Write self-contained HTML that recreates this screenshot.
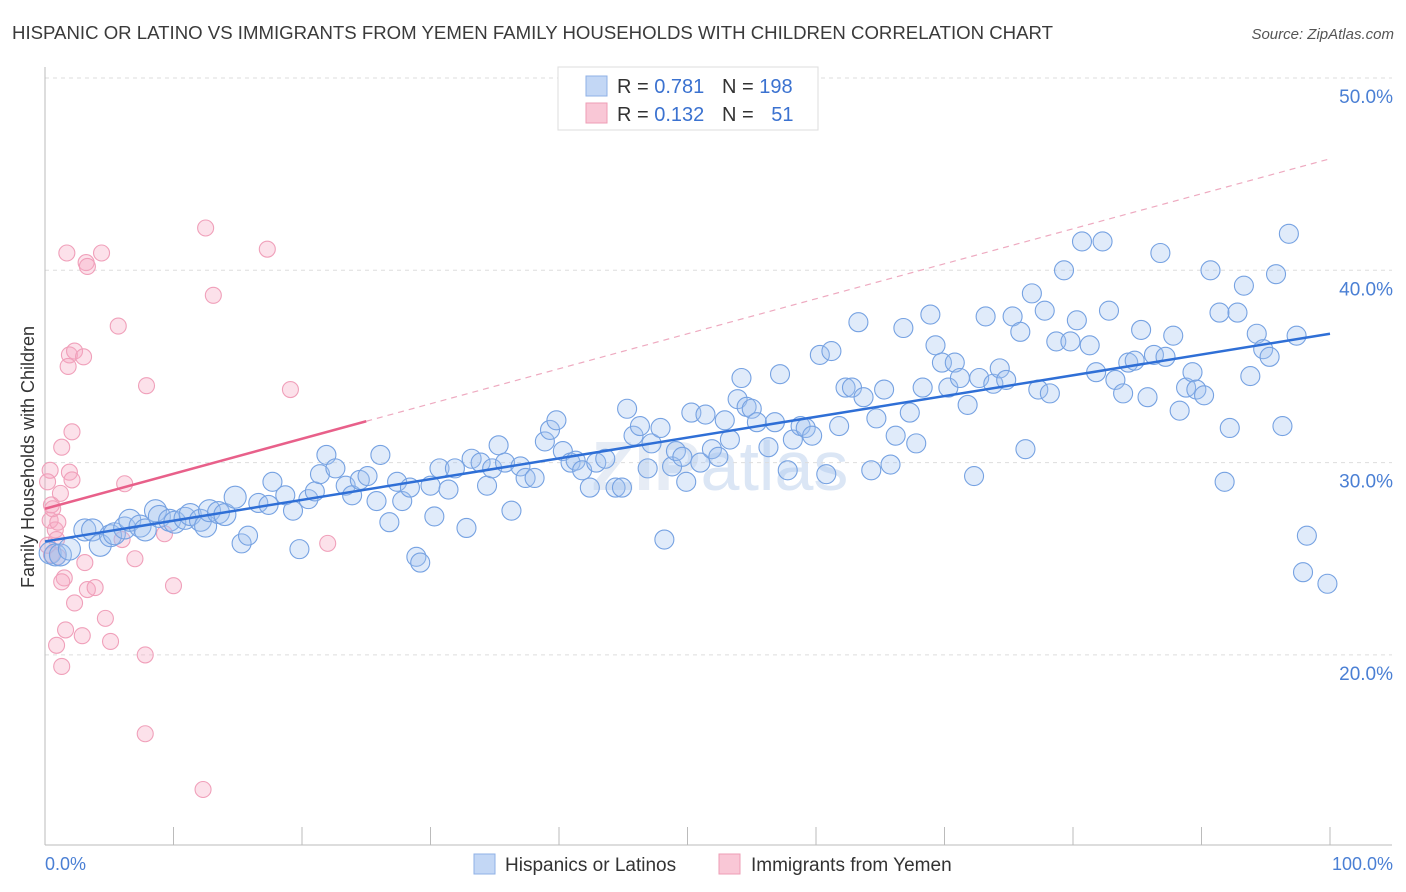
<!DOCTYPE html>
<html><head><meta charset="utf-8">
<style>
body{margin:0;background:#fff;font-family:"Liberation Sans",sans-serif;}
svg{display:block}
</style></head>
<body>
<svg id="chart" width="1406" height="892" viewBox="0 0 1406 892" xmlns="http://www.w3.org/2000/svg">
<text x="12" y="39" font-size="18" fill="#3a3a3a" textLength="1041" lengthAdjust="spacingAndGlyphs">HISPANIC OR LATINO VS IMMIGRANTS FROM YEMEN FAMILY HOUSEHOLDS WITH CHILDREN CORRELATION CHART</text>
<text x="1394" y="39" font-size="15" fill="#555" text-anchor="end" font-style="italic">Source: ZipAtlas.com</text>
<text x="720" y="490" font-size="70" fill="#e6ecf5" text-anchor="middle" font-weight="bold">ZIP<tspan fill="#dbe6f5" font-weight="normal">atlas</tspan></text>
<g id="grid"></g>
<g id="axes"></g>
<g id="pinkPts"></g>
<g id="bluePts"></g>
<g id="trends"></g>
<text transform="translate(34,457) rotate(-90)" font-size="18" fill="#333" text-anchor="middle">Family Households with Children</text>
<text x="45" y="870" font-size="18" fill="#4a7fd4">0.0%</text>
<text x="1393" y="870" font-size="18" fill="#4a7fd4" text-anchor="end">100.0%</text>
<g>
<rect x="558" y="67" width="260" height="63" fill="#fff" stroke="#ddd"/>
<rect x="586" y="76" width="21" height="20" fill="#c3d7f5" stroke="#8fb0e6"/>
<rect x="586" y="103" width="21" height="20" fill="#f9c7d6" stroke="#ee9db5"/>
<text x="617" y="93" font-size="20" fill="#333">R = <tspan fill="#3b72d0">0.781</tspan></text>
<text x="722" y="93" font-size="20" fill="#333">N = <tspan fill="#3b72d0">198</tspan></text>
<text x="617" y="121" font-size="20" fill="#333">R = <tspan fill="#3b72d0">0.132</tspan></text>
<text x="722" y="121" font-size="20" fill="#333">N = <tspan fill="#3b72d0" dx="12">51</tspan></text>
</g>
<g>
<rect x="474" y="854" width="21" height="20" fill="#c3d7f5" stroke="#8fb0e6"/>
<text x="505" y="871" font-size="19" fill="#333">Hispanics or Latinos</text>
<rect x="719" y="854" width="21" height="20" fill="#f9c7d6" stroke="#ee9db5"/>
<text x="751" y="871" font-size="19" fill="#333">Immigrants from Yemen</text>
</g>
</svg>
<script>
const yTicks=[50,40,30,20];
const xTicks=[0,10,20,30,40,50,60,70,80,90,100];
const blueX=[0.4,0.8,1.2,1.9,3.1,3.7,4.3,5.1,5.4,6.2,6.6,7.4,7.8,8.6,8.9,9.7,10.1,10.9,11.3,12.1,12.5,12.8,13.5,14.0,14.8,15.3,15.8,16.6,17.4,17.7,18.7,19.3,19.8,20.5,21.0,21.4,21.9,22.6,23.4,23.9,24.5,25.1,25.8,26.1,26.8,27.4,27.8,28.4,28.9,29.2,30.0,30.3,30.7,31.4,31.9,32.8,33.2,33.9,34.4,34.8,35.3,35.8,36.3,37.0,37.4,38.1,38.9,39.3,39.8,40.3,40.9,41.3,41.8,42.4,42.9,43.6,44.4,44.9,45.3,45.8,46.3,46.9,47.2,47.9,48.2,48.8,49.1,49.6,49.9,50.3,51.0,51.4,51.9,52.4,52.9,53.3,53.9,54.2,54.6,55.0,55.4,56.3,56.8,57.2,57.8,58.2,58.8,59.2,59.7,60.3,60.8,61.2,61.8,62.3,62.8,63.3,63.7,64.3,64.7,65.3,65.8,66.2,66.8,67.3,67.8,68.3,68.9,69.3,69.8,70.3,70.8,71.2,71.8,72.3,72.7,73.2,73.8,74.3,74.8,75.3,75.9,76.3,76.8,77.3,77.8,78.2,78.7,79.3,79.8,80.3,80.7,81.3,81.8,82.3,82.8,83.3,83.9,84.3,84.8,85.3,85.8,86.3,86.8,87.2,87.8,88.3,88.8,89.3,89.6,90.2,90.7,91.4,91.8,92.2,92.8,93.3,93.8,94.3,94.8,95.3,95.8,96.3,96.8,97.4,97.9,98.2,99.8];
const blueY=[25.3,25.2,25.2,25.5,26.5,26.5,25.7,26.2,26.3,26.6,27.0,26.7,26.5,27.5,27.2,27.0,26.9,27.1,27.3,27.0,26.7,27.5,27.4,27.3,28.2,25.8,26.2,27.9,27.8,29.0,28.3,27.5,25.5,28.1,28.5,29.4,30.4,29.7,28.8,28.3,29.1,29.3,28.0,30.4,26.9,29.0,28.0,28.7,25.1,24.8,28.8,27.2,29.7,28.6,29.7,26.6,30.2,30.0,28.8,29.7,30.9,30.0,27.5,29.8,29.2,29.2,31.1,31.7,32.2,30.6,30.0,30.1,29.6,28.7,30.0,30.2,28.7,28.7,32.8,31.4,31.9,29.7,31.0,31.8,26.0,29.8,30.6,30.3,29.0,32.6,30.0,32.5,30.7,30.3,32.2,31.2,33.3,34.4,32.9,32.8,32.1,30.8,32.1,34.6,29.6,31.2,31.9,31.8,31.4,35.6,29.4,35.8,31.9,33.9,33.9,37.3,33.4,29.6,32.3,33.8,29.9,31.4,37.0,32.6,31.0,33.9,37.7,36.1,35.2,33.9,35.2,34.4,33.0,29.3,34.4,37.6,34.1,34.9,34.3,37.6,36.8,30.7,38.8,33.8,37.9,33.6,36.3,40.0,36.3,37.4,41.5,36.1,34.7,41.5,37.9,34.3,33.6,35.2,35.3,36.9,33.4,35.6,40.9,35.5,36.6,32.7,33.9,34.7,33.8,33.5,40.0,37.8,29.0,31.8,37.8,39.2,34.5,36.7,35.9,35.5,39.8,31.9,41.9,36.6,24.3,26.2,23.7];
const pinkX=[0.4,0.2,0.5,0.4,0.8,0.9,0.5,1.0,1.3,1.2,1.7,1.9,2.1,2.1,1.9,1.8,2.3,3.0,3.2,3.3,4.4,5.7,6.2,6.0,1.5,1.3,2.3,3.3,3.9,3.1,1.6,2.9,0.9,1.3,4.7,5.1,7.0,7.8,7.9,7.8,9.3,10.0,12.3,12.5,13.1,17.3,19.1,22.0,1.0,0.6,0.2];
const pinkY=[29.6,29.0,27.8,27.0,26.5,26.0,25.2,26.9,30.8,28.4,40.9,29.5,29.1,31.6,35.6,35.0,35.8,35.5,40.4,40.2,40.9,37.1,28.9,26.0,24.0,23.8,22.7,23.4,23.5,24.8,21.3,21.0,20.5,19.4,21.9,20.7,25.0,20.0,34.0,15.9,26.3,23.6,13.0,42.2,38.7,41.1,33.8,25.8,25.1,27.6,25.7];
const blueTrend=[25.9,36.7];
const pinkTrend=[27.6,45.8];
const pinkSolidEnd=25;

const NS="http://www.w3.org/2000/svg";
const X0=45,X1=1330,Y50=78,PX_PER=19.23;
function sx(v){return X0+(X1-X0)*v/100;}
function sy(v){return Y50+(50-v)*PX_PER;}
function mk(tag,attrs,parent){const e=document.createElementNS(NS,tag);for(const k in attrs)e.setAttribute(k,attrs[k]);parent.appendChild(e);return e;}

const grid=document.getElementById('grid');
yTicks.forEach(t=>{
  const l=mk('line',{x1:45,x2:1392,y1:sy(t),y2:sy(t),stroke:'#ddd','stroke-dasharray':'4,4'},grid);
  
  
  const tx=mk('text',{x:1393,y:sy(t)+25,'font-size':19,fill:'#4a7fd4','text-anchor':'end'},grid);
  tx.textContent=t.toFixed(1)+'%';
  
  
});
const axes=document.getElementById('axes');
const ya=mk('line',{x1:45,x2:45,y1:67,y2:845,stroke:'#bbb'},axes);


const xa=mk('line',{x1:45,x2:1392,y1:845,y2:845,stroke:'#bbb'},axes);


xTicks.forEach(t=>{
  const l=mk('line',{x1:sx(t),x2:sx(t),y1:827,y2:845,stroke:'#bbb'},axes);
  
  
});
const pg=document.getElementById('pinkPts');
pinkX.forEach((x,i)=>{
  const c=mk('circle',{cx:sx(x),cy:sy(pinkY[i]),r:8,fill:'rgba(246,170,196,0.35)',stroke:'#f0a0ba','stroke-width':1.1},pg);
  
  
});
const bg=document.getElementById('bluePts');
blueX.forEach((x,i)=>{
  const r=x<15?11:9.5;
  const c=mk('circle',{cx:sx(x),cy:sy(blueY[i]),r:r,fill:'rgba(160,195,240,0.33)',stroke:'#76a2e2','stroke-width':1.1},bg);
  
  
});
const tg=document.getElementById('trends');
const bt=mk('line',{x1:sx(0),y1:sy(blueTrend[0]),x2:sx(100),y2:sy(blueTrend[1]),stroke:'#2f6fd6','stroke-width':2.5},tg);


const pAt=v=>pinkTrend[0]+(pinkTrend[1]-pinkTrend[0])*v/100;
const pd=mk('line',{x1:sx(pinkSolidEnd),y1:sy(pAt(pinkSolidEnd)),x2:sx(100),y2:sy(pinkTrend[1]),stroke:'#eeaac0','stroke-width':1.2,'stroke-dasharray':'6,5'},tg);


const ps=mk('line',{x1:sx(0),y1:sy(pinkTrend[0]),x2:sx(pinkSolidEnd),y2:sy(pAt(pinkSolidEnd)),stroke:'#e8608a','stroke-width':2.5},tg);


</script>
</body></html>
